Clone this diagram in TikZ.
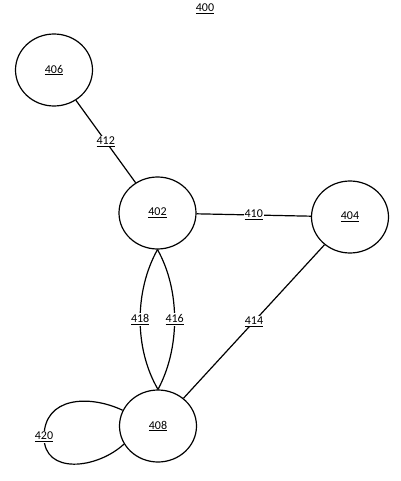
\documentclass[tikz,border=0pt]{standalone}
\usepackage{fontspec}
\setmainfont{Carlito}
\usetikzlibrary{shapes.geometric}
\tikzset{
  state/.style={draw, ellipse, line width=1.2pt, minimum width=77pt, minimum height=72pt, inner sep=0pt, font=\fontsize{12}{14}\selectfont},
  lbl/.style={fill=white, inner sep=1pt, font=\fontsize{12}{14}\selectfont},
}
\begin{document}
\begin{tikzpicture}[x=1pt, y=-1pt, line width=1.2pt]
\useasboundingbox (0,0) rectangle (400,481);
%\draw [help lines, step=20] (0,0) grid (400,481);
\node [lbl] (title) at (205,9) {\underline{400}};
\node [state] (n406) at (54,70) {\underline{406}};
\node [state] (n402) at (157.5,213) {\underline{402}};
\node [state] (n404) at (350,217) {\underline{404}};
\node [state] (n408) at (158,426) {\underline{408}};
\draw (n406) -- node [lbl] (l412) {\underline{412}} (n402);
\draw (n402) -- node [lbl] (l410) {\underline{410}} (n404);
\draw (n404) -- node [lbl] (l414) {\underline{414}} (n408);
\draw (n402.south) .. controls +(-23,41) and +(-24,-41) .. node [lbl] (l418) {\underline{418}} (n408.north);
\draw (n402.south) .. controls +(23,41) and +(22,-41) .. node [lbl] (l416) {\underline{416}} (n408.north);
\draw (n408.156) .. controls +(-34,-16) and +(0,-40) .. (44,437) coordinate (c420)
  .. controls +(0,38) and +(-27,25) .. (n408.208);
\node [lbl] (l420) at (c420) {\underline{420}};
\end{tikzpicture}
\end{document}
